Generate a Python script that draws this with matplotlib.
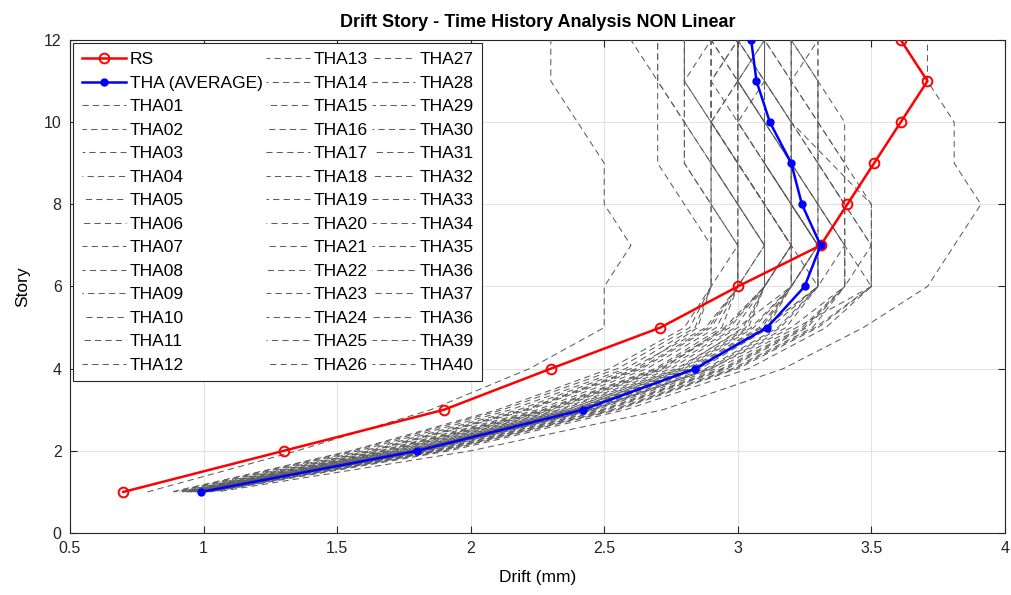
import matplotlib
matplotlib.use("Agg")
import matplotlib.pyplot as plt

plt.rcParams['font.family'] = ['Liberation Sans', 'DejaVu Sans']

stories = [1, 2, 3, 4, 5, 6, 7, 8, 9, 10, 11, 12]

rs_drift = [0.70, 1.30, 1.90, 2.30, 2.71, 3.00, 3.31, 3.41, 3.51, 3.61, 3.71, 3.61]
tha_avg_drift = [0.99, 1.80, 2.42, 2.84, 3.11, 3.25, 3.31, 3.24, 3.20, 3.12, 3.07, 3.05]

tha01 = [0.79, 1.35, 1.85, 2.22, 2.50, 2.50, 2.60, 2.50, 2.50, 2.40, 2.30, 2.30]
tha02 = [0.95, 1.70, 2.30, 2.72, 2.95, 3.10, 3.20, 3.10, 3.00, 2.90, 2.90, 2.90]
tha03 = [0.92, 1.62, 2.20, 2.62, 2.85, 2.90, 2.90, 2.90, 2.90, 2.90, 2.90, 2.90]
tha04 = [0.98, 1.78, 2.40, 2.84, 3.10, 3.30, 3.30, 3.20, 3.10, 3.00, 3.00, 3.10]
tha05 = [1.00, 1.84, 2.46, 2.90, 3.20, 3.40, 3.40, 3.40, 3.40, 3.40, 3.30, 3.20]
tha06 = [0.88, 1.55, 2.10, 2.52, 2.80, 2.90, 2.90, 2.80, 2.70, 2.70, 2.70, 2.60]
tha07 = [1.02, 1.90, 2.55, 3.00, 3.30, 3.50, 3.50, 3.50, 3.35, 3.20, 3.10, 3.10]
tha08 = [0.96, 1.74, 2.36, 2.78, 3.02, 3.10, 3.20, 3.20, 3.20, 3.20, 3.20, 3.20]
tha09 = [0.97, 1.76, 2.38, 2.80, 3.05, 3.20, 3.30, 3.30, 3.30, 3.30, 3.30, 3.30]
tha10 = [1.05, 2.00, 2.72, 3.17, 3.47, 3.71, 3.81, 3.91, 3.81, 3.81, 3.71, 3.71]
tha11 = [0.93, 1.66, 2.25, 2.66, 2.92, 3.00, 3.00, 2.90, 2.80, 2.80, 2.70, 2.70]
tha12 = [0.99, 1.80, 2.43, 2.86, 3.12, 3.30, 3.30, 3.20, 3.10, 3.10, 3.10, 3.00]
tha13 = [0.94, 1.68, 2.28, 2.70, 2.96, 3.10, 3.10, 3.00, 3.00, 2.90, 2.80, 2.80]
tha14 = [1.01, 1.86, 2.50, 2.95, 3.25, 3.40, 3.40, 3.30, 3.20, 3.10, 3.10, 3.10]
tha15 = [0.90, 1.58, 2.15, 2.58, 2.84, 2.90, 3.00, 3.00, 3.00, 3.00, 3.10, 3.10]
tha16 = [0.97, 1.77, 2.39, 2.82, 3.08, 3.20, 3.20, 3.10, 3.00, 2.90, 2.90, 2.90]
tha17 = [1.00, 1.83, 2.47, 2.92, 3.22, 3.50, 3.50, 3.40, 3.30, 3.20, 3.20, 3.20]
tha18 = [0.95, 1.72, 2.33, 2.75, 3.00, 3.20, 3.30, 3.20, 3.10, 3.00, 2.90, 3.00]
tha19 = [0.98, 1.79, 2.41, 2.85, 3.10, 3.30, 3.30, 3.20, 3.20, 3.10, 3.00, 3.00]
tha20 = [0.91, 1.60, 2.18, 2.60, 2.88, 3.00, 3.10, 3.10, 3.00, 2.90, 2.80, 2.90]
tha21 = [1.02, 1.88, 2.53, 2.98, 3.28, 3.40, 3.40, 3.40, 3.40, 3.30, 3.30, 3.30]
tha22 = [0.96, 1.75, 2.36, 2.79, 3.04, 3.10, 3.10, 3.10, 3.10, 3.10, 3.10, 3.00]
tha23 = [0.99, 1.81, 2.44, 2.88, 3.15, 3.30, 3.20, 3.20, 3.10, 3.10, 3.00, 3.10]
tha24 = [0.93, 1.64, 2.22, 2.64, 2.90, 3.00, 3.00, 3.00, 2.90, 2.80, 2.80, 2.80]
tha25 = [1.03, 1.92, 2.58, 3.04, 3.33, 3.50, 3.40, 3.30, 3.20, 3.20, 3.10, 3.10]
tha26 = [0.97, 1.78, 2.40, 2.83, 3.09, 3.20, 3.30, 3.20, 3.20, 3.20, 3.10, 3.00]
tha27 = [0.94, 1.69, 2.29, 2.71, 2.97, 3.10, 3.20, 3.10, 3.00, 3.00, 3.00, 2.90]
tha28 = [1.00, 1.85, 2.49, 2.94, 3.24, 3.40, 3.50, 3.40, 3.30, 3.20, 3.20, 3.30]
tha29 = [0.89, 1.56, 2.12, 2.55, 2.82, 2.90, 2.90, 2.90, 2.80, 2.80, 2.80, 2.80]
tha30 = [0.98, 1.80, 2.42, 2.85, 3.11, 3.20, 3.20, 3.10, 3.10, 3.10, 3.00, 3.00]
tha31 = [1.01, 1.87, 2.51, 2.96, 3.26, 3.40, 3.40, 3.40, 3.30, 3.30, 3.20, 3.20]
tha32 = [0.95, 1.71, 2.31, 2.73, 2.99, 3.10, 3.10, 3.00, 2.90, 2.90, 3.00, 3.00]
tha33 = [0.97, 1.77, 2.38, 2.81, 3.06, 3.20, 3.20, 3.20, 3.20, 3.20, 3.20, 3.10]
tha34 = [1.00, 1.82, 2.45, 2.90, 3.18, 3.30, 3.40, 3.30, 3.30, 3.30, 3.30, 3.20]
tha35 = [0.92, 1.63, 2.21, 2.63, 2.89, 3.00, 3.00, 2.90, 2.90, 2.90, 3.00, 3.00]
tha36 = [0.99, 1.82, 2.45, 2.89, 3.16, 3.30, 3.30, 3.30, 3.20, 3.10, 3.00, 3.00]
tha37 = [0.96, 1.73, 2.34, 2.77, 3.03, 3.10, 3.20, 3.10, 3.00, 2.90, 2.90, 3.00]
tha38 = [1.02, 1.89, 2.54, 2.99, 3.29, 3.50, 3.50, 3.50, 3.40, 3.30, 3.20, 3.10]
tha39 = [0.94, 1.67, 2.27, 2.69, 2.94, 3.00, 3.10, 3.00, 2.90, 2.80, 2.70, 2.70]
tha40 = [0.98, 1.79, 2.41, 2.84, 3.10, 3.20, 3.30, 3.20, 3.10, 3.00, 3.00, 2.90]

tha_records = [tha01, tha02, tha03, tha04, tha05, tha06, tha07, tha08, tha09, tha10,
               tha11, tha12, tha13, tha14, tha15, tha16, tha17, tha18, tha19, tha20,
               tha21, tha22, tha23, tha24, tha25, tha26, tha27, tha28, tha29, tha30,
               tha31, tha32, tha33, tha34, tha35, tha36, tha37, tha38, tha39, tha40]

tha_labels = ['THA01', 'THA02', 'THA03', 'THA04', 'THA05', 'THA06', 'THA07', 'THA08',
              'THA09', 'THA10', 'THA11', 'THA12', 'THA13', 'THA14', 'THA15', 'THA16',
              'THA17', 'THA18', 'THA19', 'THA20', 'THA21', 'THA22', 'THA23', 'THA24',
              'THA25', 'THA26', 'THA27', 'THA28', 'THA29', 'THA30', 'THA31', 'THA32',
              'THA33', 'THA34', 'THA35', 'THA36', 'THA37', 'THA36', 'THA39', 'THA40']

x_ticks = [0.5, 1, 1.5, 2, 2.5, 3, 3.5, 4]
x_tick_labels = ['0.5', '1', '1.5', '2', '2.5', '3', '3.5', '4']
y_ticks = [0, 2, 4, 6, 8, 10, 12]

fig = plt.figure(figsize=(10.11, 5.95), dpi=100)
ax = fig.add_axes([0.0692, 0.1042, 0.9248, 0.8286])

rs_line, = ax.plot(rs_drift, stories, color='#ff0000', lw=1.8, marker='o',
                   markersize=7, markerfacecolor='none', markeredgewidth=1.4,
                   label='RS', zorder=5)
avg_line, = ax.plot(tha_avg_drift, stories, color='#0000ff', lw=1.8, marker='.',
                    markersize=10, label='THA (AVERAGE)', zorder=6)

# individual time-history records, thin dashed grey
for i, (rec, lab) in enumerate(zip(tha_records, tha_labels)):
    ax.plot(rec, stories, color='#5e5e5e', lw=0.75,
            linestyle=((i * 1.7) % 9.0, (6.0, 4.0)), label=lab, zorder=3)

ax.set_xlim(0.5, 4)
ax.set_ylim(0, 12)
ax.set_xticks(x_ticks)
ax.set_xticklabels(x_tick_labels)
ax.set_yticks(y_ticks)
ax.grid(True, color='#e3e3e3', lw=0.8)
ax.set_axisbelow(True)
ax.tick_params(direction='in', top=True, right=True, length=5, width=0.8,
               colors='#262626', labelsize=11.5, pad=6)
for sp in ax.spines.values():
    sp.set_color('#262626')
    sp.set_linewidth(0.8)

ax.set_title('Drift Story - Time History Analysis NON Linear', fontsize=13,
             fontweight='bold', pad=9)
ax.set_xlabel('Drift (mm)', fontsize=12.5, labelpad=10)
ax.set_ylabel('Story', fontsize=12.5, labelpad=10)

leg = ax.legend(ncol=3, loc='upper left', fontsize=12.5, handlelength=2.5,
                handletextpad=0.25, columnspacing=0.2, labelspacing=0.48,
                borderpad=0.5, borderaxespad=0.2, frameon=True, fancybox=False,
                framealpha=1.0, edgecolor='#262626')
leg.get_frame().set_linewidth(0.8)

fig.savefig('out.png', dpi=100)
